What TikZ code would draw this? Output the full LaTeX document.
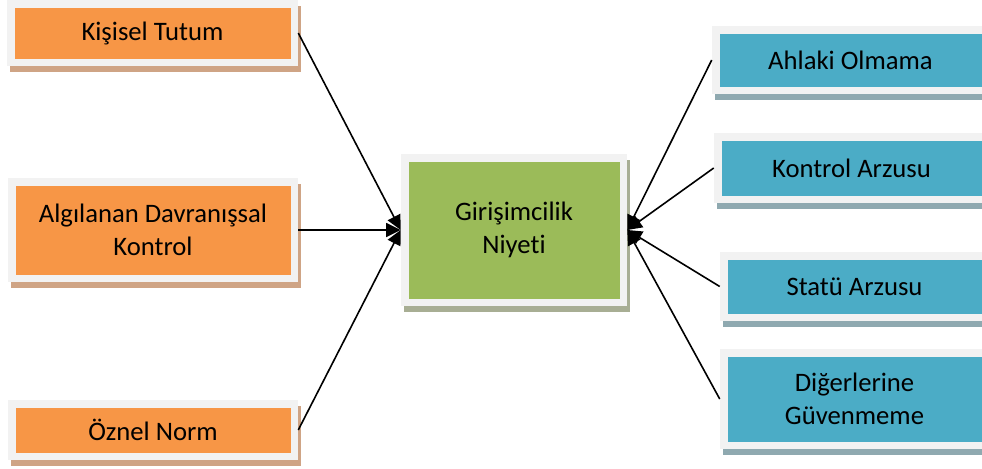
\documentclass[tikz,border=0pt]{standalone}
\usepackage{fontspec}
\setmainfont{Carlito}[Ligatures=NoCommon]
\usetikzlibrary{arrows.meta,shadows}

\definecolor{framegray}{HTML}{F2F2F2}
\definecolor{factororange}{HTML}{F79646}
\definecolor{intentgreen}{HTML}{9BBB59}
\definecolor{traitblue}{HTML}{4BACC6}
\definecolor{shadoworange}{HTML}{CFA485}
\definecolor{shadowgreen}{HTML}{A8AE94}
\definecolor{shadowblue}{HTML}{8FA9B0}

\begin{document}
\begin{tikzpicture}[
    x=0.75pt, y=-0.75pt,
    wh/.style 2 args={minimum width=#1*0.75pt, minimum height=#2*0.75pt},
    box/.style={rectangle, fill=framegray, inner sep=0pt, align=center,
        font=\fontsize{20pt}{25pt}\selectfont,
        path picture={\fill[#1] ([shift={(5.625pt,-5.625pt)}]path picture bounding box.north west)
            rectangle ([shift={(-5.625pt,5.625pt)}]path picture bounding box.south east);}},
    factor/.style={box=factororange, drop shadow={shadow xshift=2.25pt, shadow yshift=-4.5pt, opacity=1, fill=shadoworange}},
    intent/.style={box=intentgreen, drop shadow={shadow xshift=2.25pt, shadow yshift=-4.5pt, opacity=1, fill=shadowgreen}},
    trait/.style={box=traitblue, drop shadow={shadow xshift=2.25pt, shadow yshift=-4.5pt, opacity=1, fill=shadowblue}},
    arrow/.style={-{Triangle[length=11pt,width=10.5pt]}, line width=1.2pt}
]
\useasboundingbox (0,0) rectangle (982,468);
\clip (0,0) rectangle (982,468);

% Left factors
\node[factor, wh={291}{66}] (ks) at (152.5,33) {Kişisel Tutum};
\node[factor, wh={290}{104}] (adk) at (153,230) {Algılanan Davranışsal\\Kontrol};
\node[factor, wh={290}{60}] (on) at (153,430) {Öznel Norm};

% Centre
\node[intent, wh={226}{152}] (gn) at (514,230) {Girişimcilik\\Niyeti};

% Right traits
\node[trait, wh={277}{68}] (ao) at (850.5,60) {Ahlaki Olmama};
\node[trait, wh={275}{70}] (ka) at (851.5,168) {Kontrol Arzusu};
\node[trait, wh={269}{69}] (sa) at (854.5,286.5) {Statü Arzusu};
\node[trait, wh={269}{100}] (dg) at (854.5,399) {Diğerlerine\\Güvenmeme};

% Arrows
\foreach \n in {ks,adk,on}
    \draw[arrow] (\n.east) -- (gn.west);
\foreach \n in {ao,ka,sa,dg}
    \draw[arrow] (\n.west) -- (gn.east);

\end{tikzpicture}
\end{document}
